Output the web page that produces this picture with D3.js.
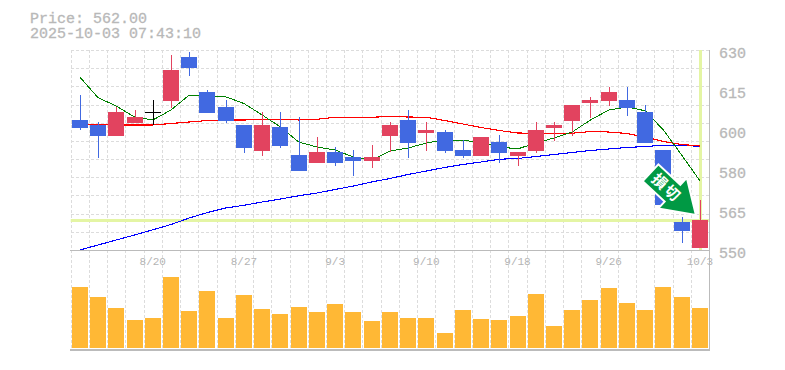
<!DOCTYPE html>
<html lang="en">

<head>
    <meta charset="UTF-8">
    <title>Price chart</title>
    <script src="https://d3js.org/d3.v7.min.js"></script>
    <style>
        html, body {
            margin: 0;
            padding: 0;
            background: #fff;
        }

        svg {
            display: block;
        }

        text {
            font-family: "Liberation Mono", monospace;
            fill: #b8b8b8;
            stroke: #b8b8b8;
            stroke-width: 0.3px;
        }

        .grid line {
            stroke: #dcdcdc;
            stroke-dasharray: 3 2;
            shape-rendering: crispEdges;
        }

        .frame line {
            stroke: #bbb;
            shape-rendering: crispEdges;
        }

        .ma {
            fill: none;
            shape-rendering: crispEdges;
        }
    </style>
</head>

<body>
    <svg id="chart" width="785" height="370"></svg>

    <script>
        const priceLabel = "Price: 562.00";
        const timeLabel = "2025-10-03 07:43:10";
        const currentPrice = 562;

        const dates = ["8/14", "8/15", "8/18", "8/19", "8/20", "8/21", "8/22", "8/25", "8/26", "8/27",
            "8/28", "8/29", "9/1", "9/2", "9/3", "9/4", "9/5", "9/8", "9/9", "9/10",
            "9/11", "9/12", "9/16", "9/17", "9/18", "9/19", "9/22", "9/24", "9/25", "9/26",
            "9/29", "9/30", "10/1", "10/2", "10/3"];
        const dateTicks = ["8/20", "8/27", "9/3", "9/10", "9/18", "9/26", "10/3"];
        const priceTicks = [630, 614, 598, 582, 566, 550];

        const opens = [602, 600, 595.6, 600.9, 605.1, 609.7, 627.2, 613.2, 607.2, 600,
            589.6, 599.2, 588, 584.8, 589.2, 587.2, 585.6, 595.6, 602, 596.8,
            597.2, 590, 587.6, 593.2, 587.6, 589.6, 598.8, 601.6, 608.8, 609.6,
            610, 605.2, 590, 561.2, 550.8];
        const highs = [612, 601.2, 607.3, 606, 610, 628, 629.3, 614, 610, 600,
            605.3, 605.3, 603.2, 595.2, 591.2, 590, 592, 601.2, 606, 601.2,
            598, 594, 595.2, 596, 589.2, 601.2, 601.2, 608, 611.2, 615.2,
            615.2, 608, 590, 563.2, 570];
        const lows = [598, 586.8, 595.6, 600.9, 600, 606.8, 619.6, 604.8, 600.8, 588.9,
            587.6, 590.8, 581.6, 584.8, 583.6, 579.6, 582.8, 589.2, 586.8, 589.6,
            588.8, 586.8, 587.6, 584.8, 583.6, 588.8, 593.6, 595.6, 602.8, 607.6,
            603.6, 592.8, 568, 552.8, 550.8];
        const closes = [598.9, 595.6, 605.2, 603.2, 605.1, 622, 622.8, 604.8, 601.6, 590.9,
            600, 591.6, 581.6, 589.2, 584.8, 585.6, 587.2, 600, 592.8, 598,
            589.6, 587.6, 595.2, 588.8, 589.2, 598, 600, 608, 610, 613.2,
            606.8, 592.8, 568, 557.6, 562];

        const maShort = [619.2, 610.9, 607.6, 603.2, 602, 606, 612, 611.6, 611.3, 608.6,
            604, 599.2, 593.2, 591.2, 590, 587.2, 585.8, 589.6, 590.8, 592.8,
            594, 594, 592.9, 591.3, 590.4, 592.8, 594.8, 597.2, 602, 606,
            607.2, 605.7, 598, 588, 577.7];
        const maMid = [600.2, 600.2, 600, 600, 600, 600.6, 601.2, 601.8, 602, 602,
            602.2, 602.3, 602, 602.3, 603.1, 603.1, 603.1, 603.4, 603.2, 603.1,
            601.8, 600.4, 599, 597.8, 596.8, 596.7, 596.7, 596.7, 597.4, 597.2,
            596.6, 595.2, 593.4, 592.2, 591.6];
        const maLong = [550, 552, 554, 556, 558.1, 560.2, 562.8, 565, 566.8, 567.9,
            569.2, 570.4, 571.7, 572.8, 574.2, 575.6, 577.2, 578.6, 580.2, 581.6,
            583, 584.2, 585.2, 586.3, 586.6, 587.4, 588.2, 589, 589.8, 590.4,
            591, 591.4, 591.9, 591.8, 591.5];

        const volumes = [61, 51, 40, 28, 30, 71, 37, 57, 30, 53,
            39, 34, 41, 36, 44, 36, 27, 36, 30, 30,
            15, 38, 29, 28, 32, 54, 22, 38, 48, 60,
            45, 38, 61, 51, 40];

        const signalIndex = 34;
        const signalText = "損切";

        const UP = "#e2435f", DOWN = "#4169e1", DOJI = "#000";
        const BODY = 16;

        const svg = d3.select("#chart");
        const indexes = d3.range(dates.length);

        const x = d3.scaleBand().domain(indexes).range([70.7, 709]);
        const y = d3.scaleLinear().domain([550, 630]).range([250, 50]);
        const yVol = d3.scaleLinear().domain([0, d3.max(volumes)]).range([348, 277]);
        const cx = i => x(i) + x.step() / 2;
        const left = i => Math.round(cx(i) - BODY / 2);

        // grid
        const grid = svg.append("g").attr("class", "grid");
        grid.selectAll(".v").data(d3.range(dates.length + 1)).enter().append("line")
            .attr("x1", i => Math.round(x.range()[0] + i * x.step()))
            .attr("x2", i => Math.round(x.range()[0] + i * x.step()))
            .attr("y1", y.range()[1])
            .attr("y2", 349);
        grid.selectAll(".h").data(d3.range(12)).enter().append("line")
            .attr("x1", x.range()[0])
            .attr("x2", x.range()[1])
            .attr("y1", i => Math.round(y(630 - i * 80 / 11)))
            .attr("y2", i => Math.round(y(630 - i * 80 / 11)));

        // current price + last day markers
        svg.append("line")
            .attr("x1", x.range()[0]).attr("x2", x.range()[1])
            .attr("y1", y(currentPrice) + 0.5).attr("y2", y(currentPrice) + 0.5)
            .attr("stroke", "#e4f5a4").attr("stroke-width", 3);
        svg.append("line")
            .attr("x1", Math.round(cx(signalIndex)) + 0.5).attr("x2", Math.round(cx(signalIndex)) + 0.5)
            .attr("y1", y.range()[1]).attr("y2", y.range()[0])
            .attr("stroke", "#e4f5a4").attr("stroke-width", 3);

        // moving averages
        const line = d3.line().x((d, i) => cx(i)).y(d => y(d));
        [[maLong, "#0000ff", 1.1], [maMid, "#ff0000", 1.1], [maShort, "#008000", 1]].forEach(([values, color, w]) => {
            svg.append("path").attr("class", "ma").attr("d", line(values)).attr("stroke", color).attr("stroke-width", w);
        });

        // candles
        const colorOf = i => closes[i] > opens[i] ? UP : closes[i] < opens[i] ? DOWN : DOJI;
        const candle = svg.append("g").attr("shape-rendering", "crispEdges");
        candle.selectAll(".wick").data(indexes).enter().append("rect")
            .attr("x", i => Math.round(cx(i)))
            .attr("width", 1)
            .attr("y", i => Math.round(y(highs[i])))
            .attr("height", i => Math.round(y(lows[i])) - Math.round(y(highs[i])))
            .attr("fill", colorOf);
        candle.selectAll(".body").data(indexes).enter().append("rect")
            .attr("x", left)
            .attr("width", BODY)
            .attr("y", i => Math.round(y(Math.max(opens[i], closes[i]))))
            .attr("height", i => Math.max(1, Math.round(y(Math.min(opens[i], closes[i]))) - Math.round(y(Math.max(opens[i], closes[i])))))
            .attr("fill", colorOf);

        // volume
        svg.append("g").attr("shape-rendering", "crispEdges")
            .selectAll("rect").data(volumes).enter().append("rect")
            .attr("x", (d, i) => left(i))
            .attr("width", BODY)
            .attr("y", d => yVol(d))
            .attr("height", d => yVol(0) - yVol(d))
            .attr("fill", "#ffb835");

        // frame
        const frame = svg.append("g").attr("class", "frame");
        frame.append("line").attr("x1", 70).attr("x2", 710).attr("y1", 250.5).attr("y2", 250.5);
        frame.append("line").attr("x1", 70).attr("x2", 710).attr("y1", 349.5).attr("y2", 349.5).attr("stroke-width", 2);
        frame.append("line").attr("x1", 709.5).attr("x2", 709.5).attr("y1", 50).attr("y2", 350);

        // axes
        const yAxis = d3.axisRight(y)
            .tickValues(priceTicks)
            .tickSize(0)
            .tickPadding(10)
            .tickFormat(d => Math.round(d / 5) * 5);
        const yG = svg.append("g").attr("transform", "translate(709,3)").call(yAxis);
        yG.select(".domain").remove();
        yG.selectAll("text").attr("font-size", 15).style("font-family", '"Liberation Mono", monospace');

        const xAxis = d3.axisBottom(x)
            .tickValues(indexes.filter(i => dateTicks.includes(dates[i])))
            .tickSize(0)
            .tickPadding(7)
            .tickFormat(i => dates[i]);
        const xG = svg.append("g").attr("transform", "translate(0,250)").call(xAxis);
        xG.select(".domain").remove();
        xG.selectAll("text").attr("font-size", 11)
            .style("font-family", '"Liberation Mono", monospace')
            .style("stroke", "none")
            .style("fill", "#b4b4b4");

        // header
        svg.append("text").attr("x", 30).attr("y", 23).attr("font-size", 15).text(priceLabel);
        svg.append("text").attr("x", 30).attr("y", 38).attr("font-size", 15).text(timeLabel);

        // signal arrow, tip sits just above the last candle
        const arrow = svg.append("g")
            .attr("transform", `translate(${cx(signalIndex) - 4},${y(currentPrice) - 5}) rotate(43)`);
        arrow.append("path")
            .attr("d", "M0,0 L-32,-21 L-32,-11.5 L-62,-11.5 L-62,11.5 L-32,11.5 L-32,21 Z")
            .attr("fill", "#009944")
            .attr("stroke", "#fff")
            .attr("stroke-width", 2);
        arrow.append("text")
            .attr("x", -40)
            .attr("y", 5.5)
            .attr("text-anchor", "middle")
            .attr("font-size", 15)
            .attr("font-weight", "bold")
            .attr("letter-spacing", 2)
            .style("font-family", '"Noto Sans CJK JP"')
            .style("fill", "#fff")
            .style("stroke", "none")
            .text(signalText);
    </script>
</body>

</html>
